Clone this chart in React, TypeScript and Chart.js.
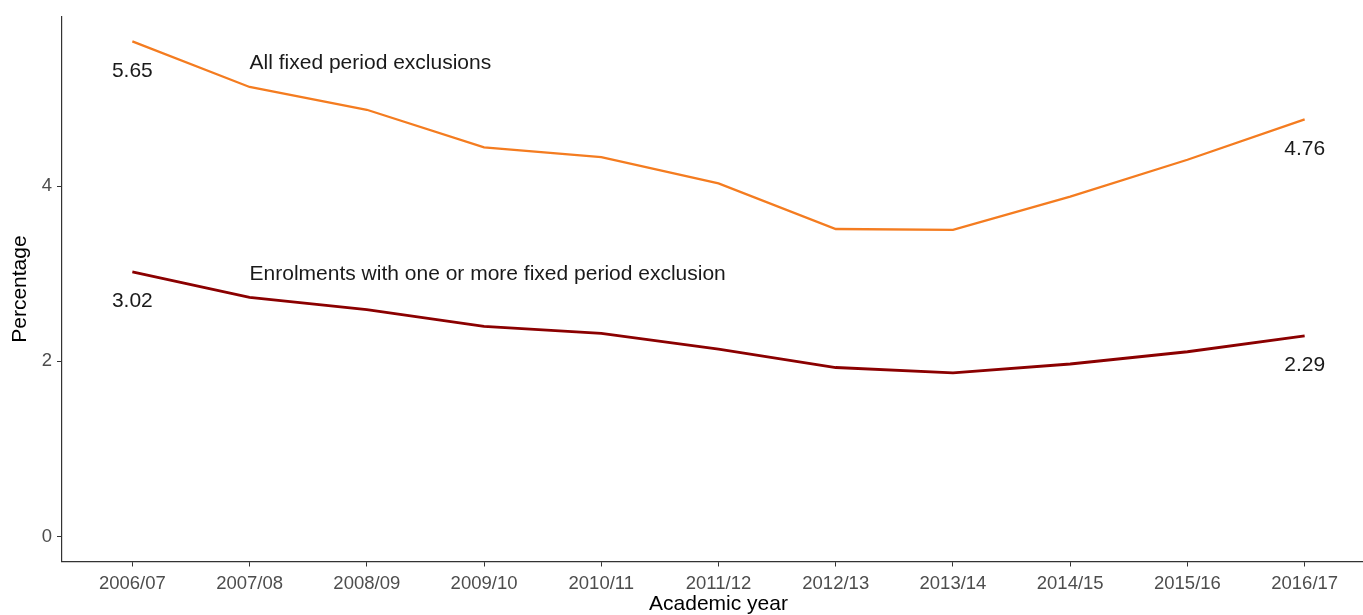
import React, { useEffect, useRef } from "react";
import { Chart, registerables } from "chart.js";

Chart.register(...registerables);

const years = ["2006/07", "2007/08", "2008/09", "2009/10", "2010/11", "2011/12", "2012/13", "2013/14", "2014/15", "2015/16", "2016/17"];
const allFixedPeriod = [5.65, 5.13, 4.87, 4.44, 4.33, 4.03, 3.51, 3.5, 3.88, 4.3, 4.76];
const enrolmentsWithExclusion = [3.02, 2.73, 2.59, 2.4, 2.32, 2.14, 1.93, 1.87, 1.97, 2.11, 2.29];
const seriesNames = ["All fixed period exclusions", "Enrolments with one or more fixed period exclusion"];
const seriesNameY = [5.4, 3.0];
const seriesNameX = 1;
const yTicks = [0, 2, 4];

const ORANGE = "#f47c20";
const DARKRED = "#8b0000";
const FONT = "'Liberation Sans', Arial, Helvetica, sans-serif";

export default function App() {
  const ref = useRef<HTMLCanvasElement | null>(null);

  useEffect(() => {
    const canvas = ref.current;
    if (!canvas) return;

    const labelsPlugin = {
      id: "labelsPlugin",
      afterDatasetsDraw(chart: any) {
        const ctx = chart.ctx;
        const xs = chart.scales.x;
        const ys = chart.scales.y;
        ctx.save();
        ctx.fillStyle = "#1a1a1a";
        ctx.font = `21px ${FONT}`;
        ctx.textBaseline = "middle";
        ctx.textAlign = "left";
        seriesNames.forEach((name, i) => {
          ctx.fillText(name, xs.getPixelForValue(seriesNameX), ys.getPixelForValue(seriesNameY[i]));
        });
        ctx.textAlign = "center";
        const last = years.length - 1;
        [allFixedPeriod, enrolmentsWithExclusion].forEach((arr) => {
          [0, last].forEach((idx) => {
            const px = xs.getPixelForValue(idx);
            const py = ys.getPixelForValue(arr[idx]) + 29.5;
            ctx.fillText(arr[idx].toFixed(2), px, py);
          });
        });
        ctx.restore();
      },
    };

    const chart = new Chart(canvas, {
      type: "line",
      data: {
        datasets: [
          {
            label: seriesNames[0],
            data: allFixedPeriod.map((v, i) => ({ x: i, y: v })),
            borderColor: ORANGE,
            borderWidth: 2.3,
            pointRadius: 0,
            fill: false,
            tension: 0,
          },
          {
            label: seriesNames[1],
            data: enrolmentsWithExclusion.map((v, i) => ({ x: i, y: v })),
            borderColor: DARKRED,
            borderWidth: 2.8,
            pointRadius: 0,
            fill: false,
            tension: 0,
          },
        ],
      },
      options: {
        responsive: false,
        animation: false,
        devicePixelRatio: 1,
        layout: { padding: { left: 0, right: 0, top: 16.6, bottom: 0 } },
        plugins: {
          legend: { display: false },
          tooltip: { enabled: false },
        },
        scales: {
          x: {
            type: "linear",
            min: -0.6,
            max: 10.6,
            afterBuildTicks: (scale: any) => {
              scale.ticks = years.map((_, i) => ({ value: i }));
            },
            afterFit: (scale: any) => {
              scale.height = 53.5;
            },
            ticks: {
              callback: (v: any) => years[Math.round(Number(v))] ?? "",
              color: "#4d4d4d",
              font: { family: FONT, size: 18.5 },
              padding: 6,
              maxRotation: 0,
              autoSkip: false,
            },
            grid: {
              drawOnChartArea: false,
              drawTicks: true,
              tickLength: 5,
              tickColor: "#333333",
              tickWidth: 1,
            },
            border: { display: true, color: "#333333", width: 1.2 },
            title: {
              display: true,
              text: "Academic year",
              color: "#000000",
              font: { family: FONT, size: 21, lineHeight: 1 },
              padding: { top: 0, bottom: 0 },
            },
          },
          y: {
            type: "linear",
            min: -0.2825,
            max: 5.9325,
            afterBuildTicks: (scale: any) => {
              scale.ticks = yTicks.map((v) => ({ value: v }));
            },
            afterFit: (scale: any) => {
              scale.width = 62;
            },
            ticks: {
              color: "#4d4d4d",
              font: { family: FONT, size: 18.5 },
              padding: 5,
            },
            grid: {
              drawOnChartArea: false,
              drawTicks: true,
              tickLength: 5,
              tickColor: "#333333",
              tickWidth: 1,
            },
            border: { display: true, color: "#333333", width: 1.2 },
            title: {
              display: true,
              text: "Percentage",
              color: "#000000",
              font: { family: FONT, size: 21, lineHeight: 1 },
              padding: { top: 9.5, bottom: 0 },
            },
          },
        },
      },
      plugins: [labelsPlugin],
    } as any);

    return () => chart.destroy();
  }, []);

  return (
    <div style={{ position: "fixed", left: 0, top: 0, width: 1363, height: 615, overflow: "hidden", background: "#ffffff" }}>
      <canvas ref={ref} width={1375} height={615} style={{ display: "block" }} />
    </div>
  );
}
